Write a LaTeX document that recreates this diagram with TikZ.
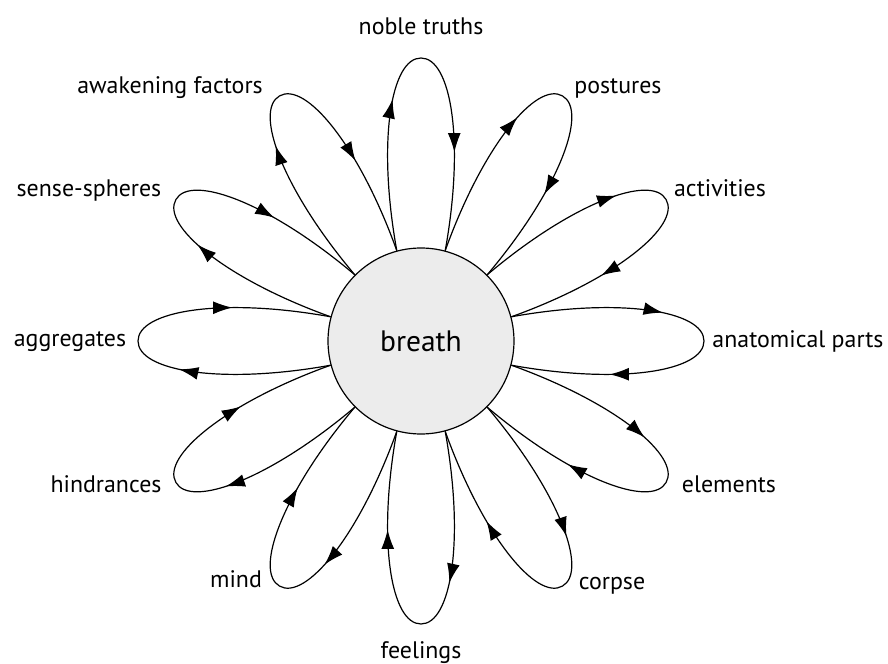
\documentclass[tikz,border=0pt]{standalone}
\usepackage{fontspec}
\setmainfont{PT Sans}
\usepackage{tikz}
\usetikzlibrary{arrows}
\usetikzlibrary{arrows.meta}
\usetikzlibrary{decorations.markings}

\begin{document}
\begin{tikzpicture}
\tikzstyle{every node}=[font=\fontsize{17}{19}\selectfont]
\tikzstyle{tag}=[anchor=base, inner sep=0pt]
\tikzstyle{petal}=[line width=0.85pt, postaction={decorate},
  decoration={markings,
    mark=at position 0.37 with {\arrow{Latex[length=4.8mm,width=3.2mm]}},
    mark=at position 0.76 with {\arrow{Latex[length=4.8mm,width=3.2mm]}}}]
\useasboundingbox (-10.525,-8.075) rectangle (11.675,8.525);
\node (b) [circle, draw, line width=0.85pt, fill=gray!15, minimum size=4.65cm, inner sep=0pt,
  font=\fontsize{21}{24}\selectfont] at (0,0) {breath};
% the loops
\foreach \a [evaluate=\a as \l using {int(\a+15)}, evaluate=\a as \r using {int(\a-15)}] in {0,30,...,330}
  \draw[petal, rotate=\a] (b.\l) .. controls (5,1.1) and (7.075,0.75) .. (7.075,0)
    .. controls (7.075,-0.75) and (5,-1.1) .. (b.\r);
% the labels
\node[tag] (nt) at (0,7.65) {noble truths};
\node[tag] (po) at (4.925,6.175) {postures};
\node[tag] (ac) at (7.475,3.6) {activities};
\node[tag] (an) at (9.425,-0.175) {anatomical parts};
\node[tag] (el) at (7.7,-3.775) {elements};
\node[tag] (co) at (4.775,-6.2) {corpse};
\node[tag] (fe) at (0,-7.925) {feelings};
\node[tag] (mi) at (-4.625,-6.15) {mind};
\node[tag] (hi) at (-7.875,-3.775) {hindrances};
\node[tag] (ag) at (-8.775,-0.15) {aggregates};
\node[tag] (ss) at (-8.3,3.6) {sense-spheres};
\node[tag] (af) at (-6.275,6.175) {awakening factors};
\end{tikzpicture}
\end{document}
